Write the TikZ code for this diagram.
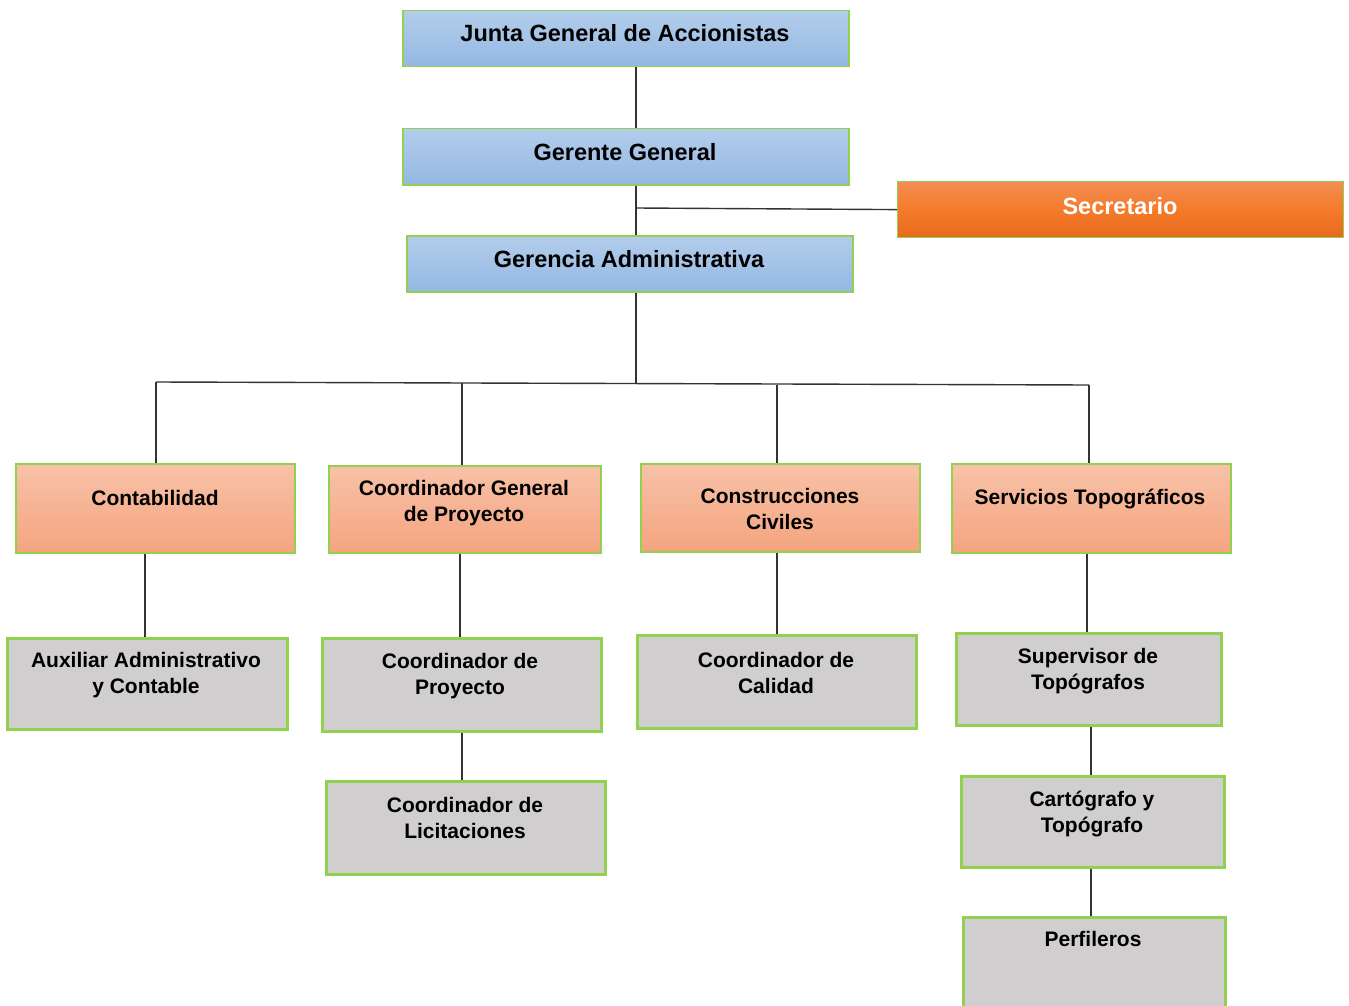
\documentclass[tikz,border=0pt]{standalone}
\usepackage{fontspec}
\setmainfont{Liberation Sans}
\begin{document}
\begin{tikzpicture}[x=1pt,y=-1pt,
  box/.style={anchor=north west, inner sep=0pt},
  bluebox/.style={box, draw=brdgreen, line width=1.5pt, top color=bluetop, bottom color=bluebot, minimum width=446pt, minimum height=56pt},
  orangebox/.style={box, draw=brdgreen, line width=1.2pt, top color=orgtop, bottom color=orgbot, middle color=orgmid, minimum width=446pt, minimum height=56pt},
  salmonbox/.style={box, draw=brdgreen, line width=1.8pt, top color=saltop, bottom color=salbot},
  graybox/.style={box, draw=brdgreen, line width=3pt, fill=grayfill},
  bigtxt/.style={font=\fontsize{23.5}{27}\selectfont\bfseries, align=center, inner sep=0pt},
  smtxt/.style={font=\fontsize{21}{26}\selectfont\bfseries, align=center, inner sep=0pt},
  conn/.style={draw=linegray, line width=1.4pt}
]
\definecolor{brdgreen}{HTML}{92D050}
\definecolor{bluetop}{HTML}{B3CDEB}
\definecolor{bluebot}{HTML}{94B8E2}
\definecolor{orgtop}{HTML}{F28D55}
\definecolor{orgmid}{HTML}{F47B2A}
\definecolor{orgbot}{HTML}{E8691E}
\definecolor{saltop}{HTML}{F8C2A8}
\definecolor{salbot}{HTML}{F4A47F}
\definecolor{grayfill}{HTML}{D0CECE}
\definecolor{linegray}{HTML}{333333}

\clip (0,0) rectangle (1349,1006);
\fill[white] (0,0) rectangle (1349,1006);

% top level boxes
\node[bluebox] (junta) at (402,10) {};
\node[bluebox] (gerente) at (402,128) {};
\node[bluebox] (gerencia) at (406,235) {};
\node[orangebox] (secre) at (897,181) {};

% second level
\node[salmonbox, minimum width=279pt, minimum height=89pt] (conta) at (15,463) {};
\node[salmonbox, minimum width=272pt, minimum height=87pt] (cgp) at (328,465) {};
\node[salmonbox, minimum width=279pt, minimum height=88pt] (cons) at (640,463) {};
\node[salmonbox, minimum width=279pt, minimum height=89pt] (serv) at (951,463) {};

% third level
\node[graybox, minimum width=280pt, minimum height=91pt] (aux) at (6,637) {};
\node[graybox, minimum width=279pt, minimum height=93pt] (cp) at (321,637) {};
\node[graybox, minimum width=279pt, minimum height=93pt] (cal) at (636,634) {};
\node[graybox, minimum width=265pt, minimum height=92pt] (sup) at (955,632) {};
\node[graybox, minimum width=279pt, minimum height=93pt] (lic) at (325,780) {};
\node[graybox, minimum width=263pt, minimum height=91pt] (carto) at (960,775) {};
\node[graybox, minimum width=262pt, minimum height=93pt] (perf) at (962,916) {};

% texts
\node[bigtxt] (tjunta) at (625,33) {Junta General de Accionistas};
\node[bigtxt] (tgerente) at (625,152) {Gerente General};
\node[bigtxt] (tgerencia) at (629,259) {Gerencia Administrativa};
\node[bigtxt, text=white] (tsecre) at (1120,206) {Secretario};

\node[smtxt] (tconta) at (155,498) {Contabilidad};
\node[smtxt] (tcgp) at (464,503) {Coordinador General\\de Proyecto};
\node[smtxt] (tcons) at (780,509) {Construcciones\\Civiles};
\node[smtxt] (tserv) at (1090,499) {Servicios Topográficos};

\node[smtxt] (taux) at (146,675) {Auxiliar Administrativo\\y Contable};
\node[smtxt] (tcp) at (460,676) {Coordinador de\\Proyecto};
\node[smtxt] (tcal) at (776,673) {Coordinador de\\Calidad};
\node[smtxt] (tsup) at (1088,671) {Supervisor de\\Topógrafos};
\node[smtxt] (tlic) at (465,818) {Coordinador de\\Licitaciones};
\node[smtxt] (tcarto) at (1092,814) {Cartógrafo y\\Topógrafo};
\node[smtxt] (tperf) at (1093,939) {Perfileros};

% connector coordinates
\coordinate (trunk) at (636,0);
\coordinate (sj) at (636,208);
\coordinate (busM) at (636,383);
\coordinate (busL) at (156,382);
\coordinate (busR) at (1089,385);
\coordinate (b2) at (462,383);
\coordinate (b3) at (777,384.5);
\coordinate (v1) at (145,0);
\coordinate (v2) at (460,0);
\coordinate (v3) at (462,0);
\coordinate (v4) at (777,0);
\coordinate (v5) at (1087,0);
\coordinate (v6) at (1091,0);

% connectors
\draw[conn] (junta.south -| trunk) -- (gerente.north -| trunk);
\draw[conn] (gerente.south -| trunk) -- (gerencia.north -| trunk);
\draw[conn] (sj) -- (secre.west);
\draw[conn] (gerencia.south -| trunk) -- (busM);
\draw[conn] (busL) -- (busR);
\draw[conn] (busL) -- (conta.north -| busL);
\draw[conn] (b2) -- (cgp.north -| b2);
\draw[conn] (b3) -- (cons.north -| b3);
\draw[conn] (busR) -- (serv.north -| busR);

\draw[conn] (conta.south -| v1) -- (aux.north -| v1);
\draw[conn] (cgp.south -| v2) -- (cp.north -| v2);
\draw[conn] (cp.south -| v3) -- (lic.north -| v3);
\draw[conn] (cons.south -| v4) -- (cal.north -| v4);
\draw[conn] (serv.south -| v5) -- (sup.north -| v5);
\draw[conn] (sup.south -| v6) -- (carto.north -| v6);
\draw[conn] (carto.south -| v6) -- (perf.north -| v6);
\end{tikzpicture}
\end{document}
